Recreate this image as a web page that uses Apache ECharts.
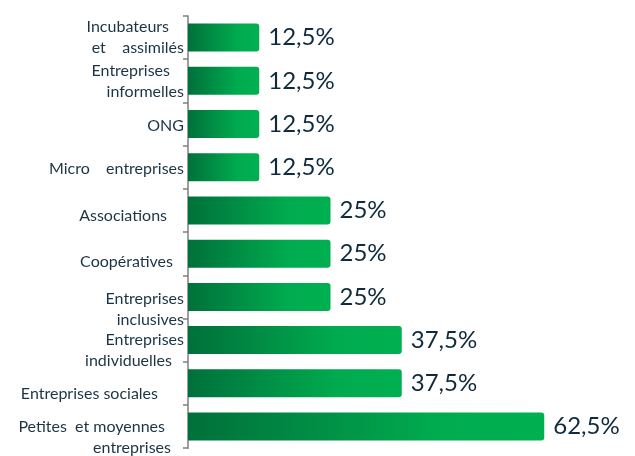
<!DOCTYPE html>
<html>
<head>
<meta charset="utf-8">
<script src="https://cdn.jsdelivr.net/npm/echarts@6/dist/echarts.min.js"></script>
<style>
  html, body { margin: 0; padding: 0; background: #fff; }
  #container { width: 635px; height: 456px; }
</style>
</head>
<body>
<div id="container"></div>
<script>
// catégories, de haut en bas
var categories = [
    'Incubateurs\net    assimilés',
    'Entreprises\ninformelles',
    'ONG',
    'Micro    entreprises',
    'Associations',
    'Coopératives',
    'Entreprises\ninclusives',
    'Entreprises\nindividuelles',
    'Entreprises sociales',
    'Petites  et moyennes\nentreprises'
];
var values = [12.5, 12.5, 12.5, 12.5, 25, 25, 25, 37.5, 37.5, 62.5];

// décalage vertical de chaque libellé, puis retrait à droite de chaque ligne
var labelDy = [0, 1, 2, 2, 5, 8, 12, 10, 11, 11];
var labelPadRight = [[15, 0], [14, 0], [0], [0], [17], [11], [0, 0], [0, 12], [26], [19, 13]];

var dom = document.getElementById("container");
var myChart = echarts.init(dom);
var option = null;

var rich = {};
labelDy.forEach(function (dy, i) {
    labelPadRight[i].forEach(function (pr, j) {
        rich['l' + i + '_' + j] = {
            color: '#1c3446',
            fontFamily: 'Lato',
            fontSize: 16,
            lineHeight: 21,
            align: 'right',
            padding: [dy * 2, pr, 0, 0]
        };
    });
});

option = {
    animation: false,
    grid: {
        left: 188,
        right: 48,
        top: 16,
        bottom: 7
    },
    xAxis: {
        type: 'value',
        min: 0,
        max: 70,
        show: false,
        splitLine: { show: false }
    },
    yAxis: {
        type: 'category',
        inverse: true,
        data: categories,
        axisLine: {
            show: true,
            lineStyle: { color: '#7f7f7f', width: 1.5 }
        },
        axisTick: {
            show: true,
            length: 5,
            lineStyle: { color: '#7f7f7f', width: 1.5 }
        },
        axisLabel: {
            interval: 0,
            hideOverlap: false,
            margin: 4,
            color: '#1c3446',
            fontFamily: 'Lato',
            fontSize: 16,
            lineHeight: 21,
            align: 'right',
            rich: rich,
            formatter: function (v, i) {
                return v.split('\n').map(function (line, j) {
                    return '{l' + i + '_' + j + '|' + line + '}';
                }).join('\n');
            }
        }
    },
    series: [{
        type: 'bar',
        data: values,
        barWidth: 28,
        itemStyle: {
            borderRadius: [0, 3, 3, 0],
            color: new echarts.graphic.LinearGradient(0, 0, 1, 0, [
                { offset: 0, color: '#00703a' },
                { offset: 0.7, color: '#00ab4f' },
                { offset: 1, color: '#00b050' }
            ])
        },
        label: {
            show: true,
            position: 'right',
            distance: 9,
            color: '#0f2a3d',
            fontFamily: 'Lato',
            fontSize: 24,
            formatter: function (p) {
                return String(p.value).replace('.', ',') + '%';
            }
        }
    }]
};

if (option && typeof option === "object") {
    myChart.setOption(option, true);
}
</script>
</body>
</html>
